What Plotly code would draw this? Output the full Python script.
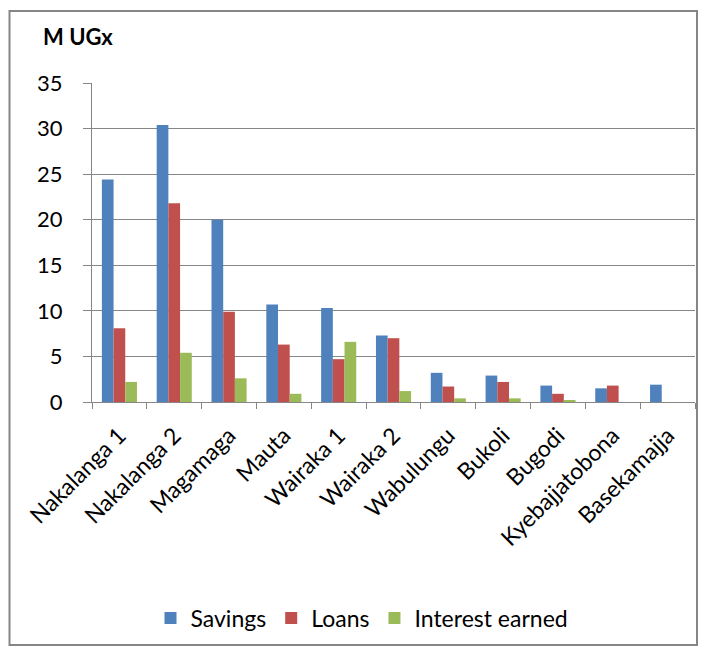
import plotly.graph_objects as go

categories = ["Nakalanga 1", "Nakalanga 2", "Magamaga", "Mauta", "Wairaka 1", "Wairaka 2",
              "Wabulungu", "Bukoli", "Bugodi", "Kyebajjatobona", "Basekamajja"]
savings = [24.4, 30.4, 20.0, 10.7, 10.3, 7.3, 3.2, 2.9, 1.8, 1.5, 1.9]
loans = [8.1, 21.8, 9.9, 6.3, 4.7, 7.0, 1.7, 2.2, 0.9, 1.8, 0]
interest = [2.2, 5.4, 2.6, 0.9, 6.6, 1.2, 0.4, 0.4, 0.2, 0, 0]
y_ticks = [0, 5, 10, 15, 20, 25, 30, 35]

FONT = "Lato"
W, H = 707, 653
L, R, T, B = 92, 12, 83, 251
pw, ph = W - L - R, H - T - B

def px(x):
    return (x - L) / pw

def py(y):
    return (H - B - y) / ph

fig = go.Figure()
for name, vals, col in [("Savings", savings, "#4F81BD"),
                        ("Loans", loans, "#C0504D"),
                        ("Interest earned", interest, "#9BBB59")]:
    fig.add_trace(go.Bar(x=categories, y=vals, name=name, marker_color=col,
                         marker_line_width=0))

fig.update_layout(
    width=W, height=H,
    margin=dict(l=L, r=R, t=T, b=B, pad=0),
    paper_bgcolor="white", plot_bgcolor="white",
    barmode="group", bargap=0.36, bargroupgap=0,
    font=dict(family=FONT, size=22, color="black"),
    showlegend=True,
    legend=dict(orientation="h", x=px(362), xanchor="center", y=py(618), yanchor="middle",
                font=dict(size=23), traceorder="normal", itemwidth=30),
    xaxis=dict(type="category", tickangle=-45, showgrid=False, showline=True,
               linecolor="#868686", linewidth=1, ticks="outside", tickson="boundaries",
               ticklen=6, tickcolor="#868686", ticklabelstandoff=10, tickfont=dict(size=23)),
    yaxis=dict(range=[0, 35], tickvals=y_ticks, showgrid=True, gridcolor="#868686",
               gridwidth=1, showline=True, linecolor="#868686", linewidth=1,
               ticks="outside", ticklen=8, tickcolor="#868686", zeroline=False,
               ticklabelstandoff=16, tickfont=dict(size=22)),
    shapes=[dict(type="rect", xref="paper", yref="paper",
                 x0=px(9.5), x1=px(697), y0=py(645), y1=py(11),
                 line=dict(color="#868686", width=2), fillcolor="rgba(0,0,0,0)", layer="below")],
    annotations=[dict(text="<b>M UGx</b>", xref="paper", yref="paper", x=px(41), y=py(37),
                      xanchor="left", yanchor="middle", showarrow=False,
                      font=dict(size=22, family=FONT))],
)

fig.write_html("out.html", config={"displayModeBar": False},
               post_script="document.body.style.margin='0';")
